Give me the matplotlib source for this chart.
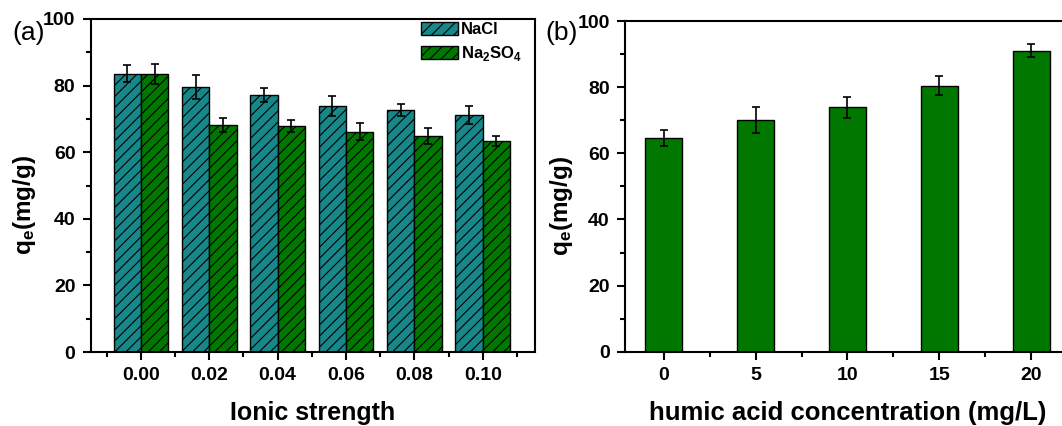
import matplotlib
matplotlib.use("Agg")
import matplotlib.pyplot as plt
from matplotlib.ticker import MultipleLocator

plt.rcParams['font.family'] = ['Liberation Sans', 'DejaVu Sans']
plt.rcParams['mathtext.fontset'] = 'custom'
plt.rcParams['mathtext.bf'] = 'Liberation Sans:bold'
plt.rcParams['mathtext.rm'] = 'Liberation Sans'
plt.rcParams['hatch.linewidth'] = 0.8
plt.rcParams['hatch.color'] = '#10303a'

# (a) ionic strength
ionic = [0.00, 0.02, 0.04, 0.06, 0.08, 0.10]
nacl = [83.6, 79.5, 77.3, 73.8, 72.7, 71.3]
nacl_err = [2.5, 3.6, 2.1, 3.0, 1.8, 2.7]
na2so4 = [83.6, 68.2, 68.0, 66.2, 64.8, 63.4]
na2so4_err = [3.0, 2.1, 1.8, 2.6, 2.4, 1.6]

# (b) humic acid
humic = [0, 5, 10, 15, 20]
qe_humic = [64.7, 70.1, 73.9, 80.5, 91.1]
qe_humic_err = [2.4, 4.0, 3.3, 2.9, 2.1]

teal = '#178789'
green = '#007800'

fig = plt.figure(figsize=(10.62, 4.26), dpi=100)

def style_axis(ax):
    for s in ax.spines.values():
        s.set_linewidth(1.5)
    ax.tick_params(which='major', direction='out', length=6, width=1.5,
                   labelsize=14, pad=5)
    ax.tick_params(which='minor', direction='out', length=3.5, width=1.5)
    ax.tick_params(top=False, right=False, which='both')
    for lab in ax.get_xticklabels() + ax.get_yticklabels():
        lab.set_fontweight('bold')

ylab = r'$\mathbf{q_{e}}$' + '(mg/g)'

# panel (a)
ax1 = fig.add_axes([0.0854, 0.1737, 0.4184, 0.7817])
w = 0.008
ekw = dict(elinewidth=1.2, capsize=3, capthick=1.2, ecolor='black')
ax1.bar([x - w / 2 for x in ionic], nacl, width=w, color=teal, edgecolor='black',
        linewidth=1.0, hatch='///', label='NaCl', yerr=nacl_err, error_kw=ekw)
ax1.bar([x + w / 2 for x in ionic], na2so4, width=w, color=green, edgecolor='black',
        linewidth=1.0, hatch='///', label=r'Na$_\mathbf{2}$SO$_\mathbf{4}$',
        yerr=na2so4_err, error_kw=ekw)
ax1.set_xlim(-0.0147, 0.1153)
ax1.set_ylim(0, 100)
ax1.set_xticks(ionic)
ax1.set_xticklabels(['%.2f' % v for v in ionic])
ax1.set_xticks([v + 0.01 for v in [-0.02] + ionic], minor=True)
ax1.yaxis.set_major_locator(MultipleLocator(20))
ax1.yaxis.set_minor_locator(MultipleLocator(10))
style_axis(ax1)
ax1.set_xlabel('Ionic strength', fontsize=18, fontweight='bold', labelpad=12)
ax1.set_ylabel(ylab, fontsize=17.5, fontweight='bold')
ax1.yaxis.set_label_coords(-0.118, 0.44)
leg = ax1.legend(loc='upper right', bbox_to_anchor=(0.975, 0.995), frameon=False,
                 prop=dict(size=12, weight='bold'),
                 handlelength=2.2, handleheight=0.8, borderaxespad=0,
                 labelspacing=0.4, handletextpad=0.2, borderpad=0.1)
fig.text(0.012, 0.905, '(a)', fontsize=19)

# panel (b)
ax2 = fig.add_axes([0.5885, 0.1744, 0.419, 0.776])
ax2.bar(humic, qe_humic, width=2.0, color=green, edgecolor='black', linewidth=1.0,
        yerr=qe_humic_err, error_kw=ekw)
ax2.set_xlim(-2.1, 22.1)
ax2.set_ylim(0, 100)
ax2.set_xticks(humic)
ax2.set_xticks([2.5, 7.5, 12.5, 17.5], minor=True)
ax2.yaxis.set_major_locator(MultipleLocator(20))
ax2.yaxis.set_minor_locator(MultipleLocator(10))
style_axis(ax2)
ax2.set_xlabel('humic acid concentration (mg/L)', fontsize=18.5, fontweight='bold',
               labelpad=12)
ax2.set_ylabel(ylab, fontsize=17.5, fontweight='bold')
ax2.yaxis.set_label_coords(-0.112, 0.44)
fig.text(0.514, 0.905, '(b)', fontsize=19)

fig.savefig('out.png', dpi=100)
